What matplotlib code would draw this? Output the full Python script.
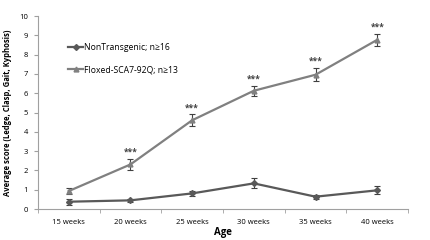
import numpy as np
import matplotlib
matplotlib.use("Agg")
import matplotlib.pyplot as plt
from matplotlib.lines import Line2D

plt.rcParams['font.family'] = ['Open Sans', 'DejaVu Sans']

ages = ["15 weeks", "20 weeks", "25 weeks", "30 weeks", "35 weeks", "40 weeks"]
nt_mean = [0.38, 0.45, 0.81, 1.33, 0.64, 0.97]
nt_err = [0.15, 0.08, 0.15, 0.26, 0.10, 0.20]
flox_mean = [0.93, 2.31, 4.60, 6.13, 6.96, 8.77]
flox_err = [0.15, 0.28, 0.30, 0.25, 0.35, 0.30]
stars = ["", "***", "***", "***", "***", "***"]

c_nt = "#595959"
c_fl = "#808080"

fig = plt.figure(figsize=(4.3, 2.4), dpi=100)
ax = fig.add_axes([0.088, 0.129, 0.861, 0.804])

x = np.arange(len(ages))
ax.errorbar(x, nt_mean, yerr=nt_err, color=c_nt, marker="D", markersize=3,
            linewidth=1.6, capsize=2, elinewidth=0.8, capthick=0.8, ecolor="#404040")
ax.errorbar(x, flox_mean, yerr=flox_err, color=c_fl, marker="^", markersize=3.5,
            linewidth=1.6, capsize=2, elinewidth=0.8, capthick=0.8, ecolor="#404040")

for i in range(len(ages)):
    if stars[i]:
        ax.text(x[i], flox_mean[i] + flox_err[i] + 0.12, stars[i], ha="center",
                va="bottom", fontsize=6, fontweight="bold", color="#404040")

ax.set_xlim(-0.5, len(ages) - 0.5)
ax.set_ylim(0, 10)
ax.set_yticks(range(0, 11))
ax.set_xticks(x)
ax.set_xticklabels(ages)
ax.set_xticks(np.arange(-0.5, len(ages)), minor=True)
ax.tick_params(axis="x", which="major", length=0, labelsize=5.5, pad=7)
ax.tick_params(axis="x", which="minor", length=3, color="#a0a0a0")
ax.tick_params(axis="y", length=3, color="#a0a0a0", labelsize=5.5, pad=4)

for s in ["top", "right"]:
    ax.spines[s].set_visible(False)
for s in ["left", "bottom"]:
    ax.spines[s].set_color("#a0a0a0")
    ax.spines[s].set_linewidth(0.8)

ax.set_xlabel("Age", fontsize=7, fontweight="bold", labelpad=1)
ax.set_ylabel("Average score (Ledge, Clasp, Gait, Kyphosis)", fontsize=5.5,
              fontweight="bold", labelpad=5)

handles = [Line2D([], [], color=c_nt, marker="D", markersize=3, linewidth=1.6),
           Line2D([], [], color=c_fl, marker="^", markersize=3.5, linewidth=1.6)]
labels = ["NonTransgenic; n\u226516", "Floxed-SCA7-92Q; n\u226513"]
ax.legend(handles, labels, loc="upper left", bbox_to_anchor=(0.06, 0.9), frameon=False,
          fontsize=6.2, handlelength=1.8, handletextpad=0.1, labelspacing=1.5)

plt.savefig("out.png", dpi=100)
